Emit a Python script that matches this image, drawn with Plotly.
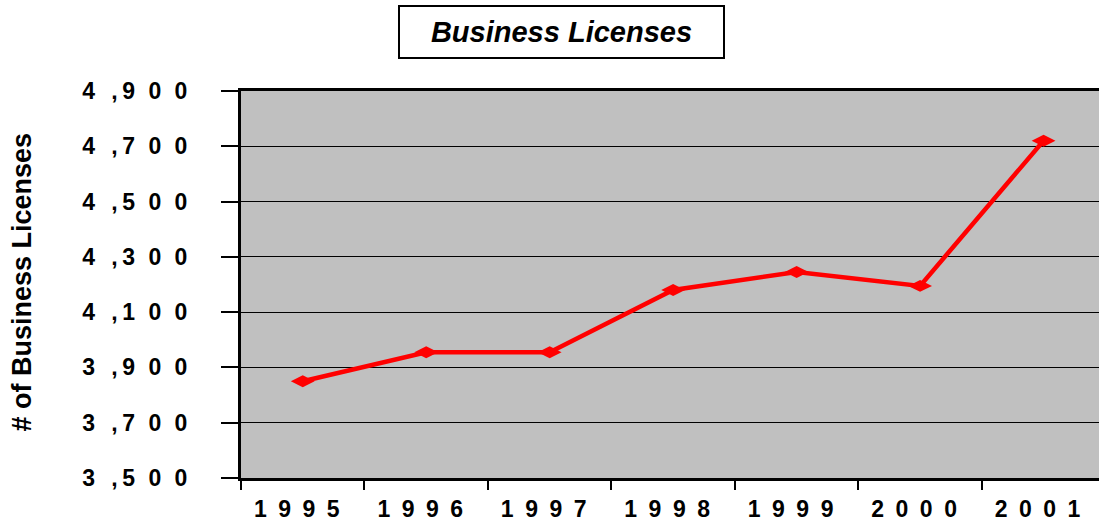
import plotly.graph_objects as go

years = ["1995", "1996", "1997", "1998", "1999", "2000", "2001"]
licenses = [3850, 3955, 3955, 4180, 4245, 4195, 4720]
y_ticks = [3500, 3700, 3900, 4100, 4300, 4500, 4700, 4900]

EN = "\u2002"
TH = "\u2009"
HS = "\u200a"


def spaced_thousands(v):
    s = str(v)
    head, tail = s[0], s[1:]
    return head + EN + TH + "," + TH + (EN + HS).join(tail)


def spaced_year(y):
    return (EN).join(y)


y_text = [spaced_thousands(v) for v in y_ticks]
x_text = [spaced_year(y) for y in years]

FONT = "Liberation Sans, Arial, sans-serif"

fig = go.Figure()
fig.add_trace(go.Scatter(
    x=years, y=licenses, mode="lines+markers",
    line=dict(color="#FF0000", width=4.5),
    marker=dict(symbol="diamond-wide", size=17, color="#FF0000"),
    showlegend=False, cliponaxis=False,
))

fig.update_layout(
    width=1099, height=529, autosize=False,
    margin=dict(l=241, r=0, t=91, b=51),
    paper_bgcolor="white", plot_bgcolor="#C0C0C0",
    font=dict(family=FONT, color="black"),
    xaxis=dict(
        type="category", range=[-0.5, 6.449],
        tickson="boundaries", ticks="outside", ticklen=9, tickwidth=2, tickcolor="black",
        tickvals=years, ticktext=x_text,
        tickfont=dict(family=FONT, size=23, color="black", weight="bold"),
        showline=True, linecolor="black", linewidth=3, mirror=True,
        showgrid=False, zeroline=False, ticklabelstandoff=8, ticklabelshift=-6,
    ),
    yaxis=dict(
        range=[3500, 4900], tickvals=y_ticks, ticktext=y_text,
        ticks="outside", ticklen=17, tickwidth=2, tickcolor="black",
        tickfont=dict(family=FONT, size=23, color="black", weight="bold"),
        showline=True, linecolor="black", linewidth=3,
        showgrid=True, gridcolor="black", gridwidth=1, zeroline=False,
        ticklabelstandoff=29,
    ),
    annotations=[
        dict(text="<b><i>Business Licenses</i></b>", xref="paper", yref="paper",
             x=0.373, y=1.152, xanchor="center", yanchor="middle", showarrow=False,
             font=dict(family=FONT, size=29, color="black"),
             width=323, height=50, bordercolor="black", borderwidth=2, borderpad=0,
             bgcolor="white"),
        dict(text="<b># of Business Licenses</b>", xref="paper", yref="paper",
             x=-0.255, y=0.114, xanchor="center", yanchor="bottom", showarrow=False,
             textangle=-90, font=dict(family=FONT, size=27, color="black")),
    ],
)

fig.write_html(
    "out.html",
    config={"displayModeBar": False},
    post_script="document.body.style.margin='0';document.body.style.overflow='hidden';",
)
